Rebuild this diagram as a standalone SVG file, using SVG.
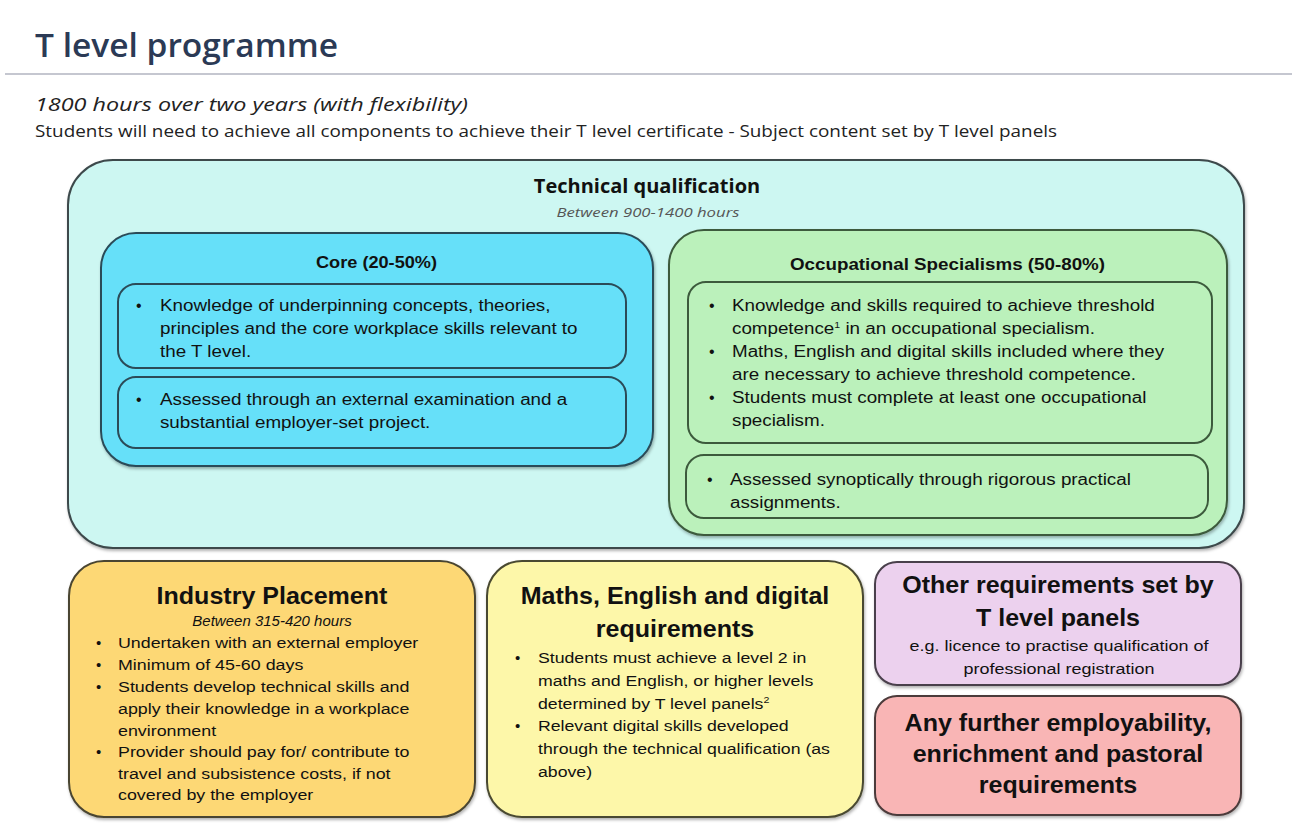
<svg xmlns="http://www.w3.org/2000/svg" width="1297" height="836" viewBox="0 0 1297 836">
<defs>
<filter id="sh" x="-5%" y="-5%" width="110%" height="115%">
<feDropShadow dx="1" dy="2" stdDeviation="1.5" flood-color="#000" flood-opacity="0.3"/>
</filter>
<style>
.cal{font-family:"Open Sans","Noto Sans",sans-serif}
.ar{font-family:"Liberation Sans",Arial,sans-serif;fill:#111}
.title{font-size:33px;font-weight:600;fill:#2b3a55}
.box{stroke-width:2}
.b16{font-size:16px}
.b15{font-size:15px}
.hd{font-weight:bold;text-anchor:middle}
.mid{text-anchor:middle}
</style>
</defs>
<rect width="1297" height="836" fill="#ffffff"/>
<g id="header">
<text class="cal title" x="35" y="57" textLength="303" lengthAdjust="spacingAndGlyphs">T level programme</text>
<line x1="5" y1="74" x2="1292" y2="74" stroke="#c5c7d0" stroke-width="2"/>
<text class="cal" x="35" y="111" font-size="19" font-style="italic" fill="#222" textLength="433" lengthAdjust="spacingAndGlyphs">1800 hours over two years (with flexibility)</text>
<text class="cal" x="35" y="137" font-size="15.5" fill="#222" textLength="1022" lengthAdjust="spacingAndGlyphs">Students will need to achieve all components to achieve their T level certificate - Subject content set by T level panels</text>
</g>
<g id="technical">
<rect class="box" x="68" y="160" width="1176" height="388" rx="45" fill="#cdf7f2" stroke="#3d4a4c" filter="url(#sh)"/>
<text class="cal hd" x="647" y="193" font-size="20" fill="#111">Technical qualification</text>
<text class="cal mid" x="648" y="217" font-size="13" font-style="italic" fill="#555" textLength="183" lengthAdjust="spacingAndGlyphs">Between 900-1400 hours</text>
</g>
<g id="core">
<rect class="box" x="101" y="233" width="552" height="233" rx="35" fill="#66e0f9" stroke="#2b4b58" filter="url(#sh)"/>
<text class="ar" x="316" y="268" font-size="16" font-weight="bold" textLength="121" lengthAdjust="spacingAndGlyphs">Core (20-50%)</text>
<rect class="box" x="118" y="284" width="508" height="84" rx="18" fill="#66e0f9" stroke="#2b4b58"/>
<rect class="box" x="118" y="377" width="508" height="71" rx="18" fill="#66e0f9" stroke="#2b4b58"/>
<text class="ar b16"><tspan x="136" y="311">•</tspan><tspan x="136" y="405">•</tspan></text>
<g transform="translate(160 0) scale(1.175 1) translate(-160 0)">
<text class="ar b16"><tspan x="160" y="311">Knowledge of underpinning concepts, theories,</tspan><tspan x="160" y="334">principles and the core workplace skills relevant to</tspan><tspan x="160" y="357">the T level.</tspan></text>
<text class="ar b16"><tspan x="160" y="405">Assessed through an external examination and a</tspan><tspan x="160" y="428">substantial employer-set project.</tspan></text>
</g>
</g>
<g id="occupational">
<rect class="box" x="669" y="230" width="558" height="305" rx="35" fill="#bbf1bb" stroke="#3c5a3c" filter="url(#sh)"/>
<text class="ar" x="790" y="270" font-size="16" font-weight="bold" textLength="315" lengthAdjust="spacingAndGlyphs">Occupational Specialisms (50-80%)</text>
<rect class="box" x="688" y="282" width="524" height="161" rx="18" fill="#bbf1bb" stroke="#3c5a3c"/>
<rect class="box" x="686" y="455" width="522" height="63" rx="18" fill="#bbf1bb" stroke="#3c5a3c"/>
<text class="ar b16"><tspan x="709" y="311">•</tspan><tspan x="709" y="357">•</tspan><tspan x="709" y="403">•</tspan><tspan x="707" y="485">•</tspan></text>
<g transform="translate(732 0) scale(1.175 1) translate(-732 0)">
<text class="ar b16"><tspan x="732" y="311">Knowledge and skills required to achieve threshold</tspan><tspan x="732" y="334">competence<tspan font-size="9" dy="-6">1</tspan><tspan dy="6"> in an occupational specialism.</tspan></tspan><tspan x="732" y="357">Maths, English and digital skills included where they</tspan><tspan x="732" y="380">are necessary to achieve threshold competence.</tspan><tspan x="732" y="403">Students must complete at least one occupational</tspan><tspan x="732" y="426">specialism.</tspan></text>
</g>
<g transform="translate(730 0) scale(1.175 1) translate(-730 0)">
<text class="ar b16"><tspan x="730" y="485">Assessed synoptically through rigorous practical</tspan><tspan x="730" y="508">assignments.</tspan></text>
</g>
</g>
<g id="industry">
<rect class="box" x="69" y="561" width="406" height="256" rx="35" fill="#fdd874" stroke="#4a4530" filter="url(#sh)"/>
<g transform="translate(272 0) scale(1.065 1) translate(-272 0)">
<text class="ar hd" x="272" y="604" font-size="23.5">Industry Placement</text>
</g>
<text class="ar mid" x="272" y="626" font-size="15" font-style="italic">Between 315-420 hours</text>
<text class="ar b15"><tspan x="96" y="648">•</tspan><tspan x="96" y="670">•</tspan><tspan x="96" y="692">•</tspan><tspan x="96" y="757">•</tspan></text>
<g transform="translate(118 0) scale(1.19 1) translate(-118 0)">
<text class="ar b15"><tspan x="118" y="648">Undertaken with an external employer</tspan><tspan x="118" y="670">Minimum of 45-60 days</tspan><tspan x="118" y="692">Students develop technical skills and</tspan><tspan x="118" y="714">apply their knowledge in a workplace</tspan><tspan x="118" y="736">environment</tspan><tspan x="118" y="757">Provider should pay for/ contribute to</tspan><tspan x="118" y="779">travel and subsistence costs, if not</tspan><tspan x="118" y="800">covered by the employer</tspan></text>
</g>
</g>
<g id="maths">
<rect class="box" x="487" y="561" width="376" height="256" rx="35" fill="#fdf7a9" stroke="#4a4a30" filter="url(#sh)"/>
<g transform="translate(675 0) scale(1.065 1) translate(-675 0)">
<text class="ar hd" font-size="23.5"><tspan x="675" y="604">Maths, English and digital</tspan><tspan x="675" y="637">requirements</tspan></text>
</g>
<text class="ar b15"><tspan x="515" y="663">•</tspan><tspan x="515" y="731">•</tspan></text>
<g transform="translate(538 0) scale(1.18 1) translate(-538 0)">
<text class="ar b15"><tspan x="538" y="663">Students must achieve a level 2 in</tspan><tspan x="538" y="686">maths and English, or higher levels</tspan><tspan x="538" y="709">determined by T level panels<tspan font-size="9" dy="-6">2</tspan></tspan><tspan x="538" y="731">Relevant digital skills developed</tspan><tspan x="538" y="754">through the technical qualification (as</tspan><tspan x="538" y="777">above)</tspan></text>
</g>
</g>
<g id="other">
<rect class="box" x="875" y="562" width="366" height="123" rx="22" fill="#ecd1ee" stroke="#4a3f4c" filter="url(#sh)"/>
<g transform="translate(1058 0) scale(1.065 1) translate(-1058 0)">
<text class="ar hd" font-size="23.5"><tspan x="1058" y="593">Other requirements set by</tspan><tspan x="1058" y="626">T level panels</tspan></text>
</g>
<g transform="translate(1059 0) scale(1.24 1) translate(-1059 0)">
<text class="ar mid" font-size="14.5"><tspan x="1059" y="651">e.g. licence to practise qualification of</tspan><tspan x="1059" y="674">professional registration</tspan></text>
</g>
</g>
<g id="further">
<rect class="box" x="875" y="696" width="366" height="119" rx="22" fill="#f9b5b5" stroke="#4c3a3a" filter="url(#sh)"/>
<g transform="translate(1058 0) scale(1.065 1) translate(-1058 0)">
<text class="ar hd" font-size="23.5"><tspan x="1058" y="731">Any further employability,</tspan><tspan x="1058" y="762">enrichment and pastoral</tspan><tspan x="1058" y="793">requirements</tspan></text>
</g>
</g>
<g id="connectors"></g>
</svg>
